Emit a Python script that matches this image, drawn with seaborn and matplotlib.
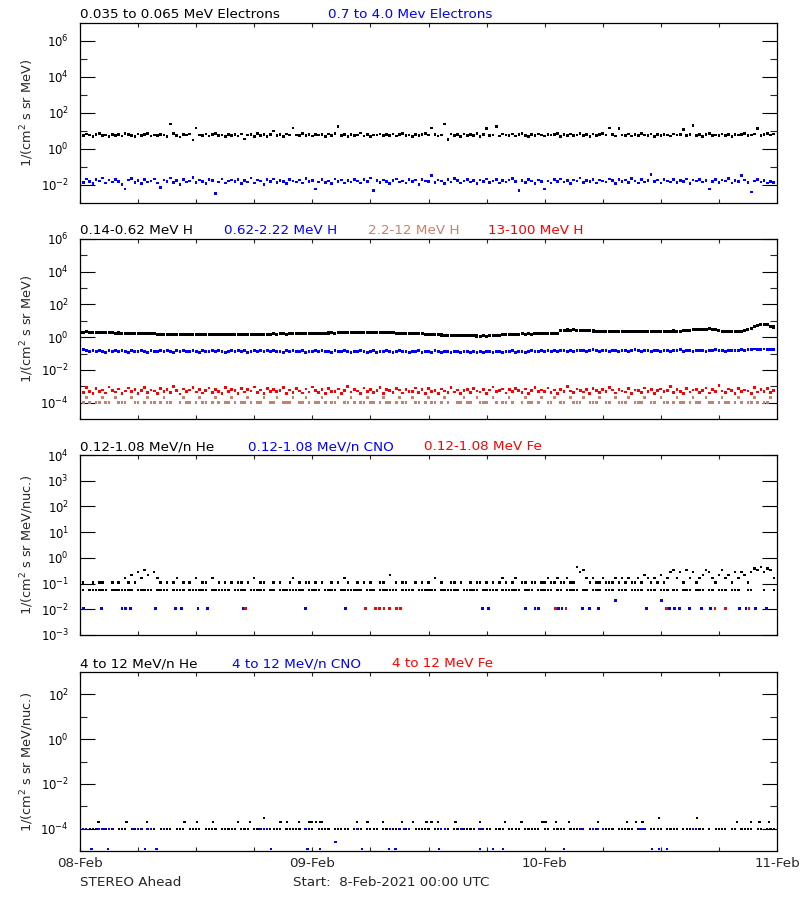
import numpy as np
import pandas as pd
import matplotlib
matplotlib.use('Agg')
import matplotlib.pyplot as plt
import matplotlib.dates as mdates
import matplotlib.ticker as ticker
import seaborn as sns

n = np.nan

# 20-minute samples, 8-Feb-2021 00:00 to 11-Feb-2021 00:00
times = pd.date_range('2021-02-08 00:00', periods=216, freq='20min')

# panel 1: electrons
e_low = [6.1, 5.4, 6.8, 5.9, 4.9, 6.3, 7.2, 5.6, 6.0, 5.1, 6.6, 5.8,
         6.4, 5.2, 7.0, 6.2, 5.5, 4.8, 6.9, 5.7, 6.3, 7.5, 5.3, 6.0,
         5.8, 6.5, 6.1, 5.0, 24.0, 7.1, 5.6, 4.7, 6.4, 5.9, 6.8, 3.2,
         15.0, 6.0, 5.4, 6.7, 5.2, 6.3, 7.4, 5.5, 6.1, 4.9, 6.6, 5.8,
         6.2, 5.3, 6.9, 3.6, 5.9, 6.4, 5.1, 7.0, 5.7, 6.2, 4.8, 6.5,
         10.0, 5.6, 6.3, 5.0, 6.8, 5.9, 15.0, 6.1, 5.4, 7.2, 5.8, 6.4,
         5.2, 6.6, 5.9, 6.2, 4.9, 6.7, 5.5, 7.3, 18.0, 5.8, 6.3, 5.1,
         6.5, 5.7, 6.0, 7.6, 5.3, 6.4, 4.8, 6.1, 5.9, 6.9, 5.4, 6.2,
         5.6, 6.8, 5.2, 6.3, 7.0, 5.8, 6.1, 4.9, 6.6, 5.5, 6.2, 7.1,
         5.9, 15.0, 6.4, 5.3, 6.0, 25.0, 3.5, 6.7, 5.6, 6.3, 5.0, 6.9,
         5.4, 6.2, 5.8, 7.2, 5.1, 6.5, 14.0, 5.7, 6.1, 18.0, 5.3, 6.8,
         6.0, 5.5, 6.7, 5.2, 6.3, 7.4, 5.8, 4.9, 6.4, 5.6, 6.9, 6.1,
         5.3, 6.6, 5.9, 6.2, 7.0, 5.1, 6.4, 5.7, 6.8, 5.4, 6.1, 7.3,
         5.8, 6.3, 5.0, 6.7, 5.6, 6.2, 7.1, 5.9, 15.0, 6.4, 5.3, 14.0,
         6.0, 5.5, 6.9, 5.2, 6.6, 5.8, 7.2, 6.1, 5.4, 6.7, 5.0, 6.3,
         5.7, 6.4, 6.0, 5.3, 6.8, 5.9, 6.2, 12.0, 5.5, 6.6, 20.0, 5.8,
         6.3, 5.1, 6.5, 7.0, 5.6, 6.1, 5.4, 6.9, 5.8, 6.2, 4.8, 6.6,
         5.9, 6.4, 7.3, 5.5, 6.0, 6.8, 14.0, 5.7, 6.2, 7.5, 6.1, 6.7]

e_high = [0.018, 0.014, 0.022, 0.016, 0.012, 0.020, 0.017, 0.025, 0.013, 0.019, 0.015, 0.021,
          0.016, 0.011, 0.006, 0.019, 0.023, 0.014, 0.018, 0.012, 0.020, 0.015, 0.017, 0.022,
          0.013, 0.007, 0.019, 0.016, 0.024, 0.014, 0.018, 0.011, 0.021, 0.015, 0.017, 0.026,
          0.014, 0.019, 0.016, 0.012, 0.020, 0.018, 0.0035, 0.015, 0.022, 0.013, 0.017, 0.019,
          0.016, 0.021, 0.012, 0.018, 0.015, 0.024, 0.013, 0.019, 0.017, 0.011, 0.020, 0.016,
          0.022, 0.014, 0.018, 0.016, 0.012, 0.021, 0.017, 0.015, 0.019, 0.013, 0.023, 0.016,
          0.018, 0.006, 0.015, 0.020, 0.014, 0.017, 0.012, 0.022, 0.016, 0.019, 0.013, 0.018,
          0.015, 0.021, 0.017, 0.013, 0.020, 0.016, 0.024, 0.005, 0.018, 0.014, 0.019, 0.016,
          0.012, 0.018, 0.022, 0.015, 0.017, 0.013, 0.020, 0.016, 0.019, 0.011, 0.021, 0.017,
          0.016, 0.035, 0.014, 0.019, 0.017, 0.012, 0.020, 0.015, 0.023, 0.018, 0.013, 0.017,
          0.021, 0.015, 0.018, 0.012, 0.019, 0.016, 0.022, 0.014, 0.017, 0.020, 0.013, 0.018,
          0.015, 0.019, 0.023, 0.016, 0.005, 0.018, 0.014, 0.021, 0.017, 0.012, 0.019, 0.016,
          0.006, 0.017, 0.013, 0.020, 0.016, 0.022, 0.015, 0.018, 0.012, 0.019, 0.017, 0.024,
          0.014, 0.018, 0.016, 0.021, 0.013, 0.019, 0.017, 0.015, 0.022, 0.018, 0.012, 0.020,
          0.016, 0.019, 0.014, 0.023, 0.017, 0.013, 0.020, 0.015, 0.018, 0.037, 0.016, 0.019,
          0.013, 0.021, 0.017, 0.015, 0.020, 0.014, 0.018, 0.016, 0.022, 0.012, 0.019, 0.017,
          0.020, 0.015, 0.018, 0.006, 0.016, 0.021, 0.014, 0.019, 0.017, 0.023, 0.013, 0.018,
          0.016, 0.035, 0.019, 0.014, 0.004, 0.017, 0.021, 0.015, 0.018, 0.013, 0.016, 0.014]

# panel 2: protons
h_low = [2.05, 1.98, 2.10, 1.95, 1.92, 2.00, 1.88, 1.85, 1.90, 1.82, 1.86, 1.78,
         1.80, 1.74, 1.77, 1.70, 1.72, 1.66, 1.69, 1.63, 1.65, 1.60, 1.62, 1.57,
         1.52, 1.48, 1.50, 1.45, 1.47, 1.43, 1.46, 1.49, 1.44, 1.47, 1.42, 1.45,
         1.43, 1.47, 1.44, 1.49, 1.52, 1.48, 1.50, 1.46, 1.44, 1.40, 1.43, 1.41,
         1.44, 1.47, 1.45, 1.50, 1.53, 1.49, 1.52, 1.55, 1.51, 1.48, 1.52, 1.56,
         1.58, 1.54, 1.57, 1.60, 1.56, 1.62, 1.66, 1.63, 1.68, 1.71, 1.67, 1.72,
         1.75, 1.70, 1.74, 1.78, 1.73, 1.80, 1.84, 1.79, 1.86, 1.82, 1.88, 1.92,
         1.87, 1.95, 1.90, 1.98, 2.02, 1.94, 1.99, 2.04, 1.96, 2.00, 1.93, 1.97,
         1.90, 1.84, 1.78, 1.72, 1.68, 1.64, 1.66, 1.61, 1.63, 1.58, 1.60, 1.55,
         1.52, 1.48, 1.44, 1.40, 1.36, 1.33, 1.30, 1.32, 1.28, 1.26, 1.29, 1.24,
         1.22, 1.25, 1.20, 1.18, 1.16, 1.19, 1.15, 1.21, 1.24, 1.28, 1.33, 1.38,
         1.42, 1.47, 1.50, 1.54, 1.52, 1.57, 1.55, 1.59, 1.56, 1.60, 1.58, 1.62,
         1.59, 1.63, 1.61, 1.60, 1.64, 2.40, 2.68, 2.75, 2.70, 2.78, 2.72, 2.66,
         2.60, 2.52, 2.45, 2.38, 2.33, 2.30, 2.26, 2.28, 2.24, 2.27, 2.22, 2.25,
         2.21, 2.26, 2.23, 2.28, 2.24, 2.30, 2.27, 2.25, 2.29, 2.32, 2.28, 2.31,
         2.34, 2.30, 2.35, 2.32, 2.38, 2.33, 2.36, 2.40, 2.45, 2.62, 2.90, 3.15,
         2.95, 2.80, 3.05, 3.20, 3.10, 2.85, 2.55, 2.35, 2.25, 2.20, 2.18, 2.22,
         2.15, 2.20, 2.45, 2.90, 3.60, 4.50, 5.40, 5.90, 5.60, 5.80, 4.60, 4.20]

h_mid = [0.20, 0.17, 0.15, 0.14, 0.16, 0.13, 0.15, 0.14, 0.12, 0.15, 0.14, 0.16,
         0.13, 0.15, 0.14, 0.12, 0.16, 0.14, 0.13, 0.15, 0.14, 0.11, 0.15, 0.13,
         0.14, 0.16, 0.13, 0.15, 0.14, 0.12, 0.15, 0.13, 0.16, 0.14, 0.13, 0.15,
         0.14, 0.12, 0.15, 0.13, 0.14, 0.16, 0.13, 0.15, 0.14, 0.12, 0.14, 0.15,
         0.13, 0.15, 0.14, 0.16, 0.12, 0.14, 0.15, 0.13, 0.15, 0.14, 0.16, 0.13,
         0.15, 0.13, 0.14, 0.12, 0.15, 0.14, 0.16, 0.13, 0.14, 0.15, 0.12, 0.14,
         0.13, 0.15, 0.14, 0.16, 0.13, 0.14, 0.12, 0.15, 0.14, 0.13, 0.15, 0.14,
         0.12, 0.14, 0.13, 0.15, 0.14, 0.11, 0.13, 0.15, 0.12, 0.14, 0.13, 0.15,
         0.14, 0.12, 0.13, 0.15, 0.13, 0.14, 0.12, 0.14, 0.13, 0.15, 0.12, 0.13,
         0.14, 0.12, 0.15, 0.13, 0.12, 0.14, 0.13, 0.11, 0.14, 0.13, 0.12, 0.14,
         0.13, 0.12, 0.14, 0.11, 0.13, 0.12, 0.14, 0.13, 0.12, 0.14, 0.13, 0.12,
         0.14, 0.13, 0.15, 0.12, 0.14, 0.13, 0.11, 0.14, 0.15, 0.13, 0.14, 0.15,
         0.14, 0.15, 0.13, 0.16, 0.14, 0.15, 0.16, 0.14, 0.15, 0.13, 0.16, 0.15,
         0.16, 0.14, 0.15, 0.17, 0.15, 0.14, 0.16, 0.15, 0.13, 0.16, 0.15, 0.14,
         0.15, 0.16, 0.14, 0.15, 0.17, 0.15, 0.14, 0.16, 0.15, 0.13, 0.15, 0.16,
         0.14, 0.16, 0.15, 0.14, 0.16, 0.15, 0.17, 0.14, 0.15, 0.16, 0.14, 0.15,
         0.16, 0.15, 0.14, 0.16, 0.15, 0.17, 0.15, 0.16, 0.14, 0.15, 0.16, 0.15,
         0.16, 0.17, 0.15, 0.18, 0.17, 0.19, 0.18, 0.17, 0.19, 0.18, 0.17, 0.18]

h_2_12 = [1e-4, 1e-4, 2e-4, 1e-4, n, 1e-4, 1e-4, 2e-4, 1e-4, 1e-4, n, 2e-4,
          1e-4, 1e-4, 1e-4, n, 2e-4, 1e-4, 1e-4, n, 1e-4, 2e-4, 1e-4, 1e-4,
          n, 1e-4, 2e-4, 1e-4, 1e-4, n, n, 1e-4, 2e-4, 1e-4, 1e-4, n,
          1e-4, 2e-4, 1e-4, 1e-4, n, 1e-4, 2e-4, 1e-4, n, 1e-4, 1e-4, 2e-4,
          1e-4, n, 1e-4, 1e-4, 2e-4, 1e-4, n, 1e-4, 1e-4, 2e-4, n, 1e-4,
          1e-4, 2e-4, n, 1e-4, 1e-4, 1e-4, 2e-4, n, 1e-4, 1e-4, 2e-4, 1e-4,
          n, 1e-4, 1e-4, 2e-4, 1e-4, n, 1e-4, 1e-4, 2e-4, n, 1e-4, 1e-4,
          2e-4, 1e-4, n, 1e-4, 1e-4, 2e-4, 1e-4, 1e-4, n, 1e-4, 2e-4, 1e-4,
          1e-4, n, 1e-4, 2e-4, 1e-4, 1e-4, n, 2e-4, 1e-4, 1e-4, n, 1e-4,
          2e-4, 1e-4, 1e-4, n, 1e-4, 2e-4, 1e-4, n, n, 1e-4, 1e-4, 2e-4,
          1e-4, 1e-4, n, 2e-4, 1e-4, 1e-4, 1e-4, n, 2e-4, 1e-4, n, 1e-4,
          1e-4, 2e-4, 1e-4, n, n, 1e-4, 2e-4, 1e-4, 1e-4, n, 1e-4, 2e-4,
          n, 1e-4, 1e-4, 2e-4, n, 1e-4, 1e-4, n, 2e-4, 1e-4, 1e-4, 1e-4,
          2e-4, n, 1e-4, 1e-4, 1e-4, 2e-4, n, 1e-4, 1e-4, n, 2e-4, 1e-4,
          1e-4, 1e-4, 2e-4, n, 1e-4, 1e-4, 1e-4, 2e-4, n, 1e-4, 1e-4, n,
          2e-4, 1e-4, 1e-4, n, 1e-4, 2e-4, 1e-4, 1e-4, n, 1e-4, 2e-4, 1e-4,
          1e-4, n, 2e-4, 1e-4, 1e-4, n, 1e-4, 2e-4, 1e-4, 1e-4, n, 1e-4,
          2e-4, 1e-4, n, 1e-4, 1e-4, 2e-4, 1e-4, n, 1e-4, 1e-4, 2e-4, n]

h_13_100 = [6.1e-4, 4.2e-4, 8.5e-4, 5.0e-4, 3.6e-4, 7.2e-4, 4.8e-4, 5.9e-4, 3.9e-4, 9.0e-4, 5.4e-4, 4.4e-4,
            6.8e-4, 3.5e-4, 5.1e-4, 7.9e-4, 4.6e-4, 6.3e-4, 3.8e-4, 5.6e-4, 8.8e-4, 4.1e-4, 6.0e-4, 5.2e-4,
            3.7e-4, 7.4e-4, 4.9e-4, 6.5e-4, 4.3e-4, 9.4e-4, 5.3e-4, 3.4e-4, 6.9e-4, 4.7e-4, 5.8e-4, 8.1e-4,
            4.5e-4, 6.2e-4, 3.9e-4, 5.5e-4, 7.7e-4, 4.0e-4, 6.6e-4, 5.0e-4, 3.6e-4, 8.6e-4, 4.8e-4, 6.1e-4,
            5.7e-4, 3.8e-4, 7.0e-4, 4.4e-4, 6.4e-4, 5.1e-4, 9.2e-4, 4.2e-4, 5.9e-4, 3.5e-4, 7.5e-4, 4.9e-4,
            6.3e-4, 4.6e-4, 5.4e-4, 8.3e-4, 3.7e-4, 6.0e-4, 4.3e-4, 7.1e-4, 5.2e-4, 3.9e-4, 6.7e-4, 4.5e-4,
            8.9e-4, 5.6e-4, 4.1e-4, 6.2e-4, 3.6e-4, 7.3e-4, 5.0e-4, 4.7e-4, 6.8e-4, 3.8e-4, 5.5e-4, 9.6e-4,
            4.4e-4, 6.5e-4, 5.1e-4, 3.5e-4, 7.8e-4, 4.9e-4, 6.1e-4, 4.0e-4, 5.7e-4, 8.4e-4, 3.7e-4, 6.4e-4,
            5.3e-4, 4.2e-4, 7.2e-4, 5.8e-4, 3.9e-4, 6.6e-4, 4.6e-4, 5.0e-4, 8.0e-4, 4.3e-4, 6.2e-4, 3.6e-4,
            7.0e-4, 4.8e-4, 5.5e-4, 3.8e-4, 6.9e-4, 5.2e-4, 4.1e-4, 8.7e-4, 4.5e-4, 6.0e-4, 3.5e-4, 5.7e-4,
            6.4e-4, 4.0e-4, 7.6e-4, 5.1e-4, 4.4e-4, 6.3e-4, 3.7e-4, 5.9e-4, 9.1e-4, 4.7e-4, 5.4e-4, 6.8e-4,
            3.9e-4, 6.1e-4, 4.6e-4, 7.4e-4, 5.3e-4, 4.2e-4, 6.7e-4, 3.6e-4, 5.6e-4, 8.2e-4, 4.9e-4, 6.0e-4,
            5.0e-4, 7.7e-4, 4.3e-4, 5.8e-4, 3.8e-4, 6.5e-4, 4.7e-4, 9.3e-4, 5.2e-4, 4.0e-4, 6.9e-4, 5.5e-4,
            4.5e-4, 6.2e-4, 3.7e-4, 7.1e-4, 5.4e-4, 4.1e-4, 6.6e-4, 4.8e-4, 8.5e-4, 5.9e-4, 3.9e-4, 6.3e-4,
            5.1e-4, 4.4e-4, 7.3e-4, 3.6e-4, 6.0e-4, 5.6e-4, 4.2e-4, 8.0e-4, 4.9e-4, 6.4e-4, 3.8e-4, 5.3e-4,
            6.8e-4, 4.6e-4, 5.7e-4, 9.8e-4, 4.0e-4, 6.1e-4, 5.0e-4, 3.7e-4, 7.5e-4, 4.5e-4, 5.8e-4, 6.6e-4,
            4.3e-4, 5.4e-4, 7.9e-4, 3.9e-4, 6.2e-4, 4.8e-4, 1.1e-3, 5.1e-4, 4.1e-4, 6.7e-4, 5.5e-4, 3.6e-4,
            7.2e-4, 4.7e-4, 6.0e-4, 5.2e-4, 3.8e-4, 8.3e-4, 4.4e-4, 6.5e-4, 5.0e-4, 7.0e-4, 4.2e-4, 5.6e-4]

# panel 3: 0.12-1.08 MeV/n, He counts at the one-count level and above it
he_low_base = [0.055, 0.055, n, 0.055, 0.055, 0.055, 0.055, 0.055, 0.055, n, 0.055, 0.055,
               0.055, 0.055, 0.055, 0.055, 0.055, n, 0.055, 0.055, 0.055, 0.055, 0.055, n,
               0.055, 0.055, 0.055, 0.055, n, 0.055, 0.055, 0.055, 0.055, n, 0.055, 0.055,
               0.055, 0.055, 0.055, 0.055, n, 0.055, 0.055, 0.055, 0.055, 0.055, 0.055, n,
               0.055, 0.055, 0.055, 0.055, n, 0.055, 0.055, 0.055, 0.055, 0.055, n, 0.055,
               0.055, n, 0.055, 0.055, 0.055, 0.055, 0.055, 0.055, 0.055, 0.055, n, 0.055,
               0.055, 0.055, 0.055, n, 0.055, 0.055, 0.055, 0.055, n, 0.055, 0.055, 0.055,
               0.055, 0.055, 0.055, 0.055, n, 0.055, 0.055, 0.055, n, 0.055, 0.055, 0.055,
               0.055, 0.055, 0.055, n, 0.055, 0.055, 0.055, 0.055, n, 0.055, 0.055, 0.055,
               0.055, 0.055, 0.055, n, 0.055, 0.055, 0.055, 0.055, 0.055, 0.055, n, 0.055,
               0.055, 0.055, 0.055, 0.055, n, 0.055, 0.055, 0.055, 0.055, 0.055, n, 0.055,
               0.055, 0.055, 0.055, 0.055, 0.055, n, 0.055, 0.055, 0.055, n, 0.055, 0.055,
               0.055, 0.055, 0.055, n, 0.055, 0.055, n, 0.055, 0.055, 0.055, 0.055, n,
               0.055, 0.055, n, 0.055, 0.055, 0.055, n, 0.055, 0.055, 0.055, n, 0.055,
               0.055, 0.055, n, 0.055, 0.055, 0.055, 0.055, n, 0.055, 0.055, 0.055, n,
               0.055, 0.055, 0.055, n, 0.055, 0.055, n, 0.055, 0.055, 0.055, n, 0.055,
               0.055, 0.055, n, 0.055, 0.055, n, 0.055, 0.055, 0.055, n, 0.055, 0.055,
               0.055, n, n, 0.055, 0.055, n, n, n, 0.055, n, n, 0.055]

he_low_high = [n, 0.11, n, n, 0.11, n, 0.11, 0.11, n, n, 0.11, n,
               0.11, n, 0.165, 0.11, 0.22, 0.11, 0.28, 0.165, 0.33, 0.22, n, 0.28,
               0.165, 0.11, n, 0.11, n, 0.11, 0.165, n, 0.11, n, 0.11, n,
               0.165, n, 0.11, 0.11, n, 0.165, n, 0.11, n, 0.11, n, 0.11,
               n, 0.11, 0.11, n, 0.11, n, 0.165, n, 0.11, 0.11, n, n,
               0.11, n, 0.11, n, n, 0.11, 0.165, n, 0.11, n, 0.11, 0.11,
               n, 0.11, n, 0.11, n, n, 0.11, n, 0.11, n, 0.165, 0.11,
               n, n, 0.11, n, 0.11, n, 0.11, n, n, 0.11, 0.11, n,
               0.22, n, 0.11, n, 0.11, 0.11, n, n, 0.11, n, 0.11, n,
               0.11, n, 0.165, n, 0.11, n, n, 0.11, 0.11, n, 0.11, n,
               n, 0.11, n, 0.11, 0.11, n, 0.11, n, 0.11, n, 0.11, 0.165,
               0.11, n, 0.11, 0.165, n, 0.11, 0.11, n, 0.11, 0.11, n, 0.11,
               0.11, 0.165, 0.11, 0.11, 0.165, 0.11, 0.11, 0.165, 0.11, 0.11, 0.44, 0.28,
               0.33, 0.165, 0.11, 0.165, 0.11, 0.11, 0.165, 0.11, 0.11, 0.11, 0.165, 0.11,
               0.165, 0.11, 0.165, 0.11, 0.11, 0.165, 0.11, 0.22, 0.165, 0.11, 0.165, 0.11,
               0.22, 0.11, 0.165, 0.28, 0.33, 0.165, 0.28, 0.11, 0.33, 0.165, 0.28, 0.11,
               0.165, 0.22, 0.33, 0.28, 0.165, 0.11, 0.22, 0.33, 0.165, 0.22, 0.11, 0.28,
               0.165, 0.28, 0.22, 0.11, 0.28, 0.39, 0.33, 0.44, 0.28, 0.39, 0.33, 0.165]

# sparse heavy-ion points: hours after start, value
cno_low_hours = [0.35, 2.2, 4.35, 4.7, 5.2, 7.8, 9.9, 10.5, 12.2, 13.2, 16.9, 23.3, 27.4,
                 41.6, 42.2, 46.0, 47.0, 47.4, 49.4, 49.8, 51.9, 52.6, 53.6, 55.3, 58.5,
                 60.1, 60.9, 61.4, 61.9, 63.0, 64.2, 65.1, 68.1, 68.8, 69.8, 70.9]
cno_low_vals = [0.011, 0.011, 0.011, 0.011, 0.011, 0.011, 0.011, 0.011, 0.011, 0.011, 0.011, 0.011, 0.011,
                0.011, 0.011, 0.011, 0.011, 0.011, 0.011, 0.011, 0.011, 0.011, 0.011, 0.022, 0.011,
                0.022, 0.011, 0.011, 0.011, 0.011, 0.011, 0.011, 0.011, 0.011, 0.011, 0.011]
fe_low_hours = [17.1, 29.5, 30.5, 30.9, 31.4, 32.0, 32.7, 33.1, 49.1, 50.2, 60.6, 65.6, 66.7, 69.1]
fe_low_vals = [0.011, 0.011, 0.011, 0.011, 0.011, 0.011, 0.011, 0.011, 0.011, 0.011, 0.011, 0.011, 0.011, 0.011]

# panel 4: 4-12 MeV/n
he_high_base = [1e-4, 1e-4, n, 1e-4, 1e-4, 1e-4, n, 1e-4, 1e-4, 1e-4, 1e-4, n,
                1e-4, 1e-4, 1e-4, n, 1e-4, 1e-4, 1e-4, 1e-4, n, 1e-4, 1e-4, 1e-4,
                n, 1e-4, 1e-4, 1e-4, 1e-4, n, 1e-4, 1e-4, 1e-4, n, 1e-4, 1e-4,
                1e-4, 1e-4, n, 1e-4, 1e-4, 1e-4, 1e-4, n, 1e-4, 1e-4, 1e-4, 1e-4,
                1e-4, n, 1e-4, 1e-4, 1e-4, n, 1e-4, 1e-4, 1e-4, 1e-4, n, 1e-4,
                1e-4, 1e-4, 1e-4, n, 1e-4, 1e-4, 1e-4, 1e-4, 1e-4, n, 1e-4, 1e-4,
                1e-4, n, 1e-4, 1e-4, 1e-4, 1e-4, n, 1e-4, 1e-4, 1e-4, 1e-4, 1e-4,
                n, 1e-4, 1e-4, 1e-4, n, 1e-4, 1e-4, 1e-4, 1e-4, n, 1e-4, 1e-4,
                1e-4, 1e-4, 1e-4, 1e-4, n, 1e-4, 1e-4, n, 1e-4, 1e-4, 1e-4, 1e-4,
                1e-4, n, 1e-4, 1e-4, 1e-4, 1e-4, 1e-4, n, 1e-4, 1e-4, n, 1e-4,
                1e-4, 1e-4, 1e-4, n, 1e-4, 1e-4, 1e-4, 1e-4, n, 1e-4, 1e-4, 1e-4,
                n, 1e-4, 1e-4, 1e-4, 1e-4, n, 1e-4, 1e-4, 1e-4, 1e-4, 1e-4, n,
                1e-4, 1e-4, n, 1e-4, 1e-4, 1e-4, 1e-4, n, 1e-4, 1e-4, 1e-4, 1e-4,
                1e-4, n, 1e-4, 1e-4, 1e-4, n, 1e-4, 1e-4, 1e-4, 1e-4, n, 1e-4,
                1e-4, 1e-4, 1e-4, 1e-4, n, 1e-4, 1e-4, 1e-4, n, 1e-4, 1e-4, 1e-4,
                1e-4, n, 1e-4, 1e-4, 1e-4, 1e-4, n, 1e-4, 1e-4, 1e-4, n, 1e-4,
                1e-4, 1e-4, n, 1e-4, n, 1e-4, 1e-4, 1e-4, 1e-4, n, 1e-4, 1e-4,
                n, 1e-4, 1e-4, 1e-4, 1e-4, n, 1e-4, 1e-4, n, 1e-4, 1e-4, 1e-4]

he_high_hours = [1.9, 4.8, 6.9, 10.8, 12.1, 13.7, 16.3, 17.6, 19.0, 20.7, 21.4, 22.6, 23.7,
                 24.0, 24.4, 24.8, 25.0, 28.6, 29.7, 31.3, 33.3, 34.4, 35.8, 36.3, 37.0,
                 38.8, 41.3, 43.9, 45.6, 47.7, 47.9, 48.1, 49.2, 50.5, 53.5, 56.5, 57.4,
                 58.1, 59.8, 63.7, 67.9, 69.3, 70.2, 71.2]
he_high_vals = [2e-4, 2e-4, 2e-4, 2e-4, 2e-4, 2e-4, 2e-4, 2e-4, 3e-4, 2e-4, 2e-4, 2e-4, 2e-4,
                2e-4, 2e-4, 2e-4, 2e-4, 2e-4, 2e-4, 2e-4, 2e-4, 2e-4, 2e-4, 2e-4, 2e-4,
                2e-4, 2e-4, 2e-4, 2e-4, 2e-4, 2e-4, 2e-4, 2e-4, 2e-4, 2e-4, 2e-4, 2e-4,
                2e-4, 3e-4, 3e-4, 2e-4, 2e-4, 2e-4, 2e-4]

cno_high_hours = [0.3, 0.6, 1.2, 1.9, 2.3, 2.6, 2.9, 3.0, 3.4, 5.5, 6.0, 6.4, 6.7, 6.9, 7.3, 7.9,
                  8.7, 18.6, 19.0, 19.3, 19.7, 23.3, 23.5, 24.8, 26.4, 28.6, 29.1, 31.9, 32.0,
                  32.6, 33.0, 33.5, 34.0, 37.1, 37.3, 37.7, 39.4, 41.2, 41.3, 41.5, 42.7, 43.7,
                  50.0, 51.8, 53.0, 53.5, 54.0, 57.9, 58.2, 59.1, 59.8, 60.6, 63.3, 63.6]
cno_high_vals = [1e-4, 1e-4, 1.2e-5, 1e-4, 1e-4, 1e-4, 1.2e-5, 1e-4, 1e-4, 1e-4, 1e-4, 1e-4, 1.2e-5, 1e-4, 1e-4, 1.2e-5,
                 1e-4, 1e-4, 1e-4, 1e-4, 1.2e-5, 1e-4, 1.2e-5, 1.2e-5, 2.5e-5, 1e-4, 1.2e-5, 1.2e-5, 1e-4,
                 1.2e-5, 1e-4, 1e-4, 1e-4, 1.2e-5, 1e-4, 1e-4, 1e-4, 1e-4, 1.2e-5, 1e-4, 1.2e-5, 1.2e-5,
                 1.2e-5, 1e-4, 1e-4, 1e-4, 1e-4, 1e-4, 1e-4, 1.2e-5, 1.2e-5, 1.2e-5, 1e-4, 1e-4]

t0 = pd.Timestamp('2021-02-08 00:00')
t1 = pd.Timestamp('2021-02-11 00:00')


def hours_to_time(hours):
    return t0 + pd.to_timedelta(hours, unit='h')


BLUE = '#0000ff'
RED = '#ff0000'
SALMON = '#c8826c'

sns.set_style('white')
plt.rcParams['font.family'] = ['DejaVu Sans']
plt.rcParams['mathtext.fontset'] = 'dejavusans'

fig = plt.figure(figsize=(8, 9), dpi=100)

W, H = 800.0, 900.0
left_px, width_px = 80, 697
tops_px = [23, 239, 455, 672]
heights_px = [180, 180, 180, 179]

panels = [
    dict(ylim=(1e-3, 1e7), major=[1e-2, 1e0, 1e2, 1e4, 1e6], minor=[1e-1, 1e1, 1e3, 1e5],
         ylabel=r'1/(cm$^2$ s sr MeV)',
         titles=[('0.035 to 0.065 MeV Electrons', 'black', 80), ('0.7 to 4.0 Mev Electrons', BLUE, 328)]),
    dict(ylim=(1e-5, 1e6), major=[1e-4, 1e-2, 1e0, 1e2, 1e4, 1e6], minor=[1e-3, 1e-1, 1e1, 1e3, 1e5],
         ylabel=r'1/(cm$^2$ s sr MeV)',
         titles=[('0.14-0.62 MeV H', 'black', 80), ('0.62-2.22 MeV H', BLUE, 224),
                 ('2.2-12 MeV H', SALMON, 368), ('13-100 MeV H', RED, 488)]),
    dict(ylim=(1e-3, 1e4), major=[1e-3, 1e-2, 1e-1, 1e0, 1e1, 1e2, 1e3, 1e4], minor=[],
         ylabel=r'1/(cm$^2$ s sr MeV/nuc.)',
         titles=[('0.12-1.08 MeV/n He', 'black', 80), ('0.12-1.08 MeV/n CNO', BLUE, 248),
                 ('0.12-1.08 MeV Fe', RED, 424)]),
    dict(ylim=(1e-5, 1e3), major=[1e-4, 1e-2, 1e0, 1e2], minor=[1e-3, 1e-1, 1e1],
         ylabel=r'1/(cm$^2$ s sr MeV/nuc.)',
         titles=[('4 to 12 MeV/n He', 'black', 80), ('4 to 12 MeV/n CNO', BLUE, 232),
                 ('4 to 12 MeV Fe', RED, 392)]),
]

FS = 9.7
TICK_FS = 8.4
axes = []
for i, p in enumerate(panels):
    top, h = tops_px[i], heights_px[i]
    ax = fig.add_axes([left_px / W, 1 - (top + h) / H, width_px / W, h / H])
    axes.append(ax)
    for text, color, x in p['titles']:
        fig.text(x / W, 1 - (top - 4.7) / H, text, color=color, fontsize=FS, va='baseline', ha='left')
    fig.text(27 / W, 1 - (top + h / 2) / H, p['ylabel'], rotation=90, fontsize=9.3,
             va='center', ha='center')


def dots(ax, x, y, color, s=3.2):
    sns.scatterplot(x=x, y=y, ax=ax, color=color, marker='s', s=s, linewidth=0,
                    edgecolor='none', legend=False)


ax1, ax2, ax3, ax4 = axes
dots(ax1, times, e_low, 'black', 3.6)
dots(ax1, times, e_high, BLUE, 3.6)

dots(ax2, times, h_low, 'black', 4.8)
dots(ax2, times, h_mid, BLUE, 4.0)
dots(ax2, times, h_2_12, SALMON, 3.6)
dots(ax2, times, h_13_100, RED, 3.8)

dots(ax3, times, he_low_base, 'black', 3.2)
dots(ax3, times, he_low_high, 'black', 3.2)
dots(ax3, hours_to_time(cno_low_hours), cno_low_vals, BLUE, 4.0)
dots(ax3, hours_to_time(fe_low_hours), fe_low_vals, RED, 4.0)

dots(ax4, times, he_high_base, 'black', 2.4)
dots(ax4, hours_to_time(he_high_hours), he_high_vals, 'black', 2.6)
dots(ax4, hours_to_time(cno_high_hours), cno_high_vals, BLUE, 2.6)

for i, (ax, p) in enumerate(zip(axes, panels)):
    ax.set_yscale('log')
    ax.set_ylim(*p['ylim'])
    ax.set_xlim(t0, t1)
    ax.yaxis.set_major_locator(ticker.FixedLocator(p['major']))
    ax.yaxis.set_minor_locator(ticker.FixedLocator(p['minor']))
    ax.yaxis.set_major_formatter(ticker.FuncFormatter(
        lambda v, pos: r'$10^{%d}$' % int(round(np.log10(v)))))
    ax.yaxis.set_minor_formatter(ticker.NullFormatter())
    ax.tick_params(axis='y', which='major', direction='in', length=10.5, width=0.8,
                   left=True, right=True, labelsize=TICK_FS, pad=8, colors='black')
    ax.tick_params(axis='y', which='minor', direction='in', length=5.0, width=0.8,
                   left=True, right=True)
    ax.xaxis.set_major_locator(mdates.DayLocator())
    ax.xaxis.set_minor_locator(mdates.HourLocator(byhour=[6, 12, 18]))
    ax.tick_params(axis='x', which='both', direction='in', length=3.2, width=0.8,
                   top=True, bottom=True, labelsize=FS, pad=4.5)
    if i < 3:
        ax.xaxis.set_major_formatter(ticker.NullFormatter())
    else:
        ax.xaxis.set_major_formatter(mdates.DateFormatter('%d-%b'))
    ax.set_xlabel('')
    ax.set_ylabel('')
    ax.set_facecolor('white')
    for sp in ax.spines.values():
        sp.set_color('black')
        sp.set_linewidth(0.9)

fig.text(80 / W, 1 - 886 / H, 'STEREO Ahead', fontsize=FS, va='baseline', ha='left')
fig.text(293 / W, 1 - 886 / H, 'Start:  8-Feb-2021 00:00 UTC', fontsize=FS, va='baseline', ha='left')

fig.savefig('out.png', dpi=100, facecolor='white')
